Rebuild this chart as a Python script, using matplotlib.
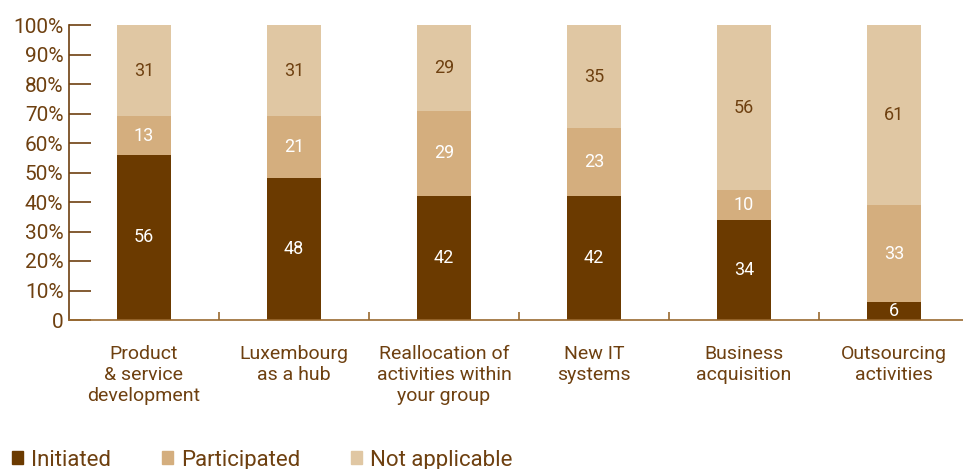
import numpy as np
import matplotlib.pyplot as plt
from matplotlib.patches import Patch

plt.rcParams['font.family'] = ['Roboto', 'DejaVu Sans']

categories = ['Product\n& service\ndevelopment', 'Luxembourg\nas a hub',
              'Reallocation of\nactivities within\nyour group', 'New IT\nsystems',
              'Business\nacquisition', 'Outsourcing\nactivities']
initiated = [56, 48, 42, 42, 34, 6]
participated = [13, 21, 29, 23, 10, 33]
not_applicable = [31, 31, 29, 35, 56, 61]
series_names = ['Initiated', 'Participated', 'Not applicable']

brown = '#6B3A00'
c_part = '#D4AE7E'
c_na = '#E0C7A3'
txt = '#6E4010'

fig = plt.figure(figsize=(9.63, 4.69), dpi=100)
ax = fig.add_axes([69 / 963, 149 / 469, 900 / 963, 295 / 469])

x = np.arange(len(categories))
w = 0.36
ax.bar(x, initiated, w, color=brown)
ax.bar(x, participated, w, bottom=initiated, color=c_part)
bottom3 = np.array(initiated) + np.array(participated)
ax.bar(x, not_applicable, w, bottom=bottom3, color=c_na)

for i in range(len(x)):
    ax.text(x[i], initiated[i] / 2, str(initiated[i]), ha='center', va='center',
            color='white', fontsize=13)
    ax.text(x[i], initiated[i] + participated[i] / 2, str(participated[i]),
            ha='center', va='center', color='white', fontsize=13)
    ax.text(x[i], bottom3[i] + not_applicable[i] / 2, str(not_applicable[i]),
            ha='center', va='center', color=txt, fontsize=13)

ax.set_xlim(-0.5, 5.5)
ax.set_ylim(0, 100)
ax.set_yticks(np.arange(0, 101, 10))
ax.set_yticklabels(['0'] + ['%d%%' % v for v in range(10, 101, 10)])
ax.set_xticks(x)
ax.set_xticklabels(categories, fontsize=14, color=txt, linespacing=1.22)
ax.set_xticks(x[:-1] + 0.5, minor=True)

ax.tick_params(axis='y', direction='in', length=16, width=1.2, color=txt,
               labelcolor=txt, labelsize=15, pad=4)
ax.tick_params(axis='x', which='major', length=0, pad=18)
ax.tick_params(axis='x', which='minor', direction='in', length=6, width=1.2, color='#9A6A30')

for s in ['top', 'right']:
    ax.spines[s].set_visible(False)
ax.spines['left'].set_color(txt)
ax.spines['left'].set_linewidth(1.2)
ax.spines['bottom'].set_color('#9A6A30')
ax.spines['bottom'].set_linewidth(1.2)

handles = [Patch(color=brown), Patch(color=c_part), Patch(color=c_na)]
fig.legend(handles, series_names, loc='center left', bbox_to_anchor=(12 / 963, 9 / 469),
           ncol=3, frameon=False, fontsize=16, handlelength=0.5, handleheight=0.5,
           handletextpad=0.35, columnspacing=2.3, labelcolor=txt,
           borderpad=0, borderaxespad=0)

fig.savefig('out.png', dpi=100)
